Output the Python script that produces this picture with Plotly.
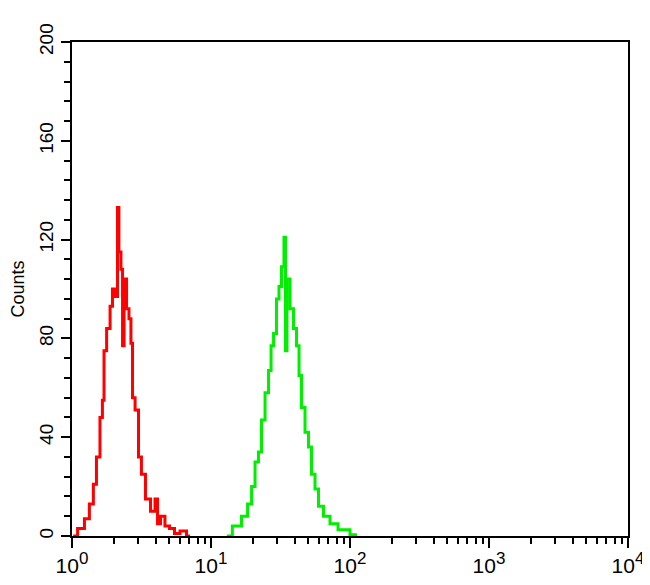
import plotly.graph_objects as go

# Fluorescence channel values (linear units, log axis) and counts
red_x = [1.02, 1.18, 1.28, 1.39, 1.46, 1.54, 1.64, 1.67, 1.73, 1.82, 1.94, 1.97, 2.11, 2.14,
         2.21, 2.29, 2.33, 2.41, 2.53, 2.61, 2.70, 2.75, 2.94, 3.08, 3.24, 3.52, 3.83, 4.09,
         4.16, 4.51, 4.82, 5.24, 5.69, 6.29, 7.06]
red_counts = [0, 3, 7, 13, 21, 32, 48, 55, 75, 84, 93, 100, 97, 133,
              115, 108, 77, 104, 92, 88, 78, 56, 51, 32, 25, 15, 10, 15,
              5, 8, 4, 3, 1, 2, 0]

green_x = [13.0, 15.6, 17.6, 19.1, 20.1, 21.4, 22.5, 23.7, 25.3, 26.6, 27.5, 28.9, 30.3, 31.4,
           32.9, 34.1, 34.6, 35.8, 38.3, 40.2, 42.3, 43.7, 45.9, 49.1, 51.5, 54.2, 57.9, 60.8,
           68.3, 75.5, 89.1, 112.2]
green_counts = [0, 4, 8, 13, 20, 30, 34, 47, 58, 67, 77, 82, 96, 101,
                109, 121, 75, 104, 92, 84, 77, 65, 52, 42, 36, 25, 19, 12,
                8, 5, 2.5, 0.5]

x_tickvals = [1, 10, 100, 1000, 10000]
x_exponents = ["0", "1", "2", "3", "4"]
x_ticktext = ['10<sup><span style="font-size:17px">%s</span></sup>' % e for e in x_exponents]
x_minorvals = [m * d for d in (1, 10, 100, 1000) for m in range(2, 10)]
y_tickvals = [0, 40, 80, 120, 160, 200]

fig = go.Figure()
fig.add_trace(go.Scatter(x=red_x, y=red_counts, mode="lines",
                         line=dict(color="#ff0000", width=3, shape="hvh"), showlegend=False))
fig.add_trace(go.Scatter(x=green_x, y=green_counts, mode="lines",
                         line=dict(color="#00ee00", width=3, shape="hvh"), showlegend=False))

fig.update_layout(
    width=650, height=585,
    margin=dict(l=64, r=30, t=34, b=57, autoexpand=False),
    paper_bgcolor="white", plot_bgcolor="white",
    font=dict(family="Liberation Sans, Arial, sans-serif", color="black"),
    xaxis=dict(type="log", range=[0, 4], tickvals=x_tickvals, ticktext=x_ticktext,
               automargin=False,
               ticks="outside", ticklen=10, tickwidth=2, tickcolor="black",
               showline=True, linecolor="black", linewidth=2, mirror=True,
               showgrid=False, zeroline=False, tickfont=dict(size=21),
               minor=dict(tickvals=x_minorvals, ticks="outside", ticklen=6,
                          tickwidth=2, tickcolor="black", showgrid=False)),
    yaxis=dict(range=[0, 200], tickvals=y_tickvals, tickangle=-90, automargin=False,
               ticks="outside", ticklen=9, tickwidth=2, tickcolor="black",
               showline=True, linecolor="black", linewidth=2, mirror=True,
               showgrid=False, zeroline=False, tickfont=dict(size=19),
               minor=dict(dtick=8, ticks="outside", ticklen=6, tickwidth=2,
                          tickcolor="black", showgrid=False),
               title=dict(text="Counts", font=dict(size=18), standoff=10)),
)

fig.write_html("out.html")
